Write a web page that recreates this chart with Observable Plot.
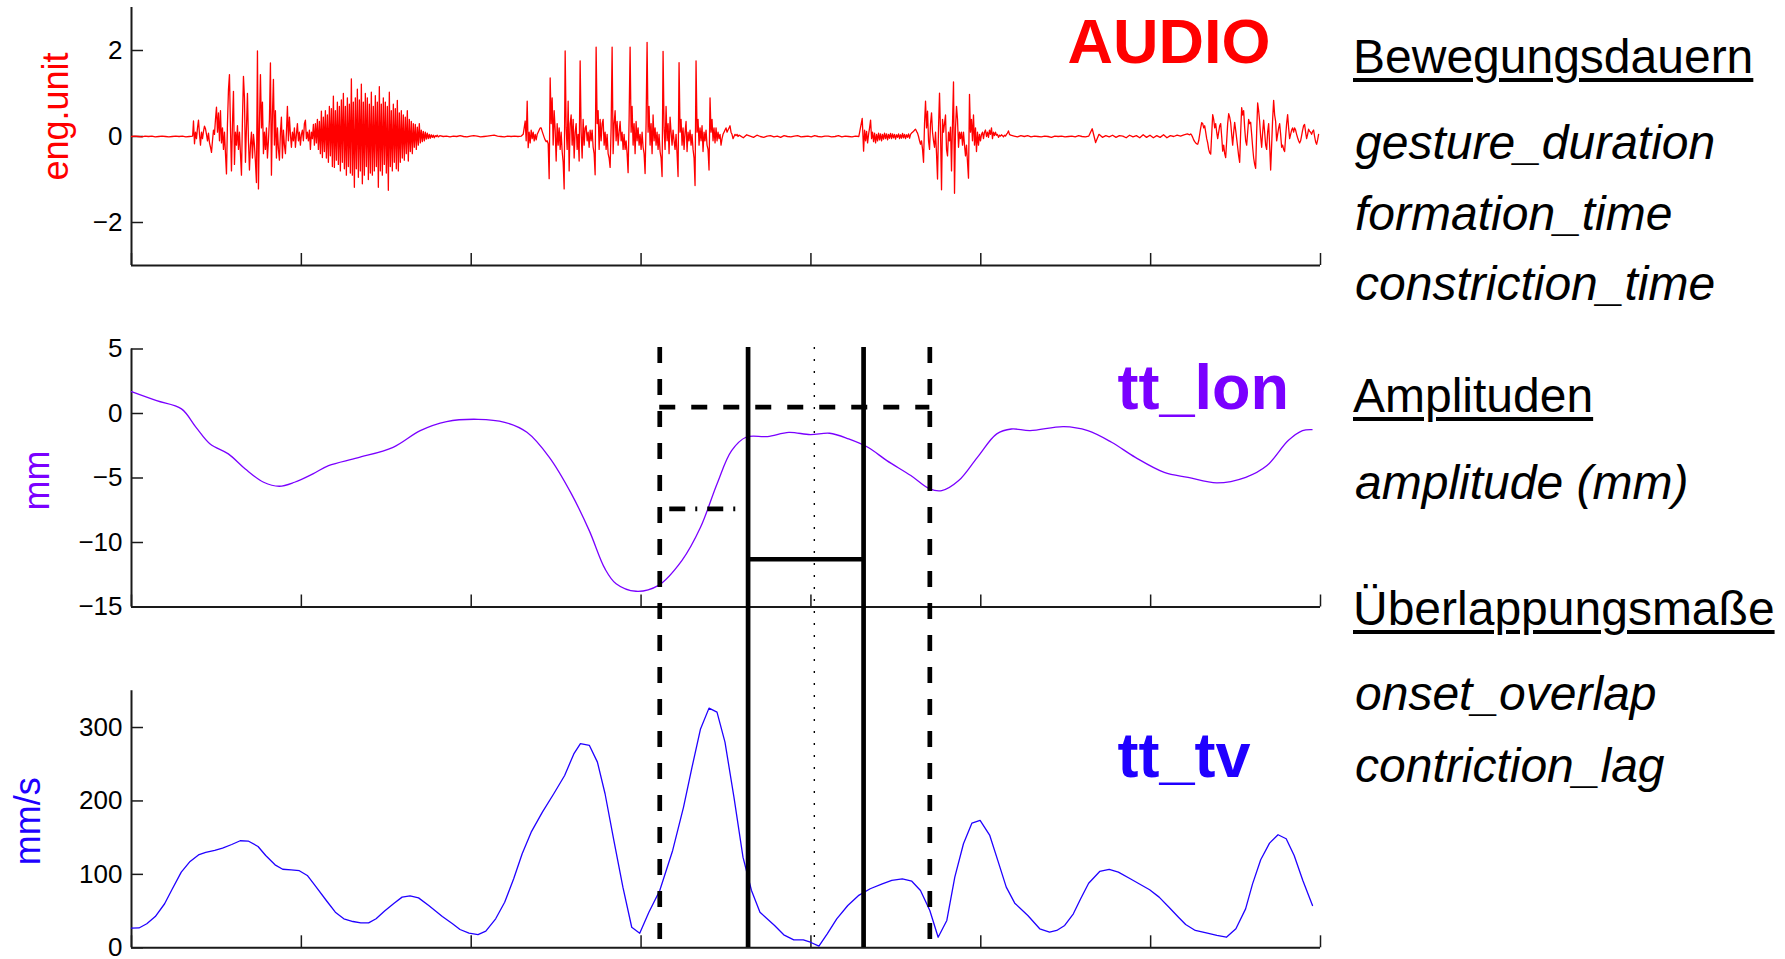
<!DOCTYPE html>
<html><head><meta charset="utf-8">
<script src="https://cdn.jsdelivr.net/npm/d3@7"></script>
<script src="https://cdn.jsdelivr.net/npm/@observablehq/plot@0.6"></script>
<style>
body{margin:0;background:#fff;font-family:"Liberation Sans",Arial,Helvetica,sans-serif;}
#wrap{position:relative;width:1785px;height:959px;overflow:hidden;background:#fff;}
.rt{position:absolute;left:1353px;font-size:48px;line-height:48px;white-space:nowrap;color:#000;}
.rt.h{text-decoration:underline;text-decoration-thickness:3.5px;text-underline-offset:5px;}
.rt.i{font-style:italic;left:1355px;}
</style></head>
<body><div id="wrap"></div>
<script>
// ---------- shared time axis (ms, unlabeled ticks) ----------
const xDomain = [0, 700];
const xTicks = [0, 100, 200, 300, 400, 500, 600, 700];

// ---------- AUDIO (eng.unit), sampled in segments ----------
const audioSegStart = [0, 36.5, 181.5, 230.6, 358.2, 431, 517.6, 623];   // ms
const audioSegRate  = [0.5, 1.7, 0.5, 1.7, 0.5, 1.7, 0.5, 1.7];          // samples per ms
const audioQuiet1 = [0,0.01,0,-0.01,0.01,0,0.01,-0.01,0,0.01,0,-0.01,0,0.01,0,0.01,-0.01,0,0.01];
const audioSyllable1 = [
0.36,-0.17,0.1,-0.05,0.2,0.38,0.05,-0.2,0.1,-0.05,
0.12,0.24,0.18,0.05,-0.1,0.08,-0.15,-0.25,-0.37,-0.1,
0.15,0.05,0.4,0.68,0.1,0.55,-0.1,0.6,-0.15,0.2,
-0.3,0.1,-0.4,-0.87,0.3,1.09,1.44,0.2,-0.8,0.3,
1.05,-0.65,0.1,-0.2,0.25,-0.3,0.1,-0.4,-0.9,0.4,
1.4,0.9,-0.6,0.2,1.0,-0.1,-0.78,-0.2,0.1,-0.5,
0.05,-0.2,-0.6,-1.07,1.99,-1.22,0.3,1.44,0.2,0.8,
-0.4,0.1,-0.3,0.2,-0.5,-0.1,0.4,1.71,-0.9,0.5,
1.33,-0.2,0.6,-0.5,0.2,-0.3,-0.55,0.1,0.45,-0.5,
0.15,-0.2,-0.4,0.1,0.7,-0.1,0.45,0.05,-0.25,0.1,
-0.1,0.2,-0.25,0.05,0.3,-0.1,0.1,-0.2,0.05,0.15,
-0.1,0.3,0.38,-0.05,0.1,-0.1,0.15,-0.3,0.1,-0.05,
0.28,-0.2,0.3,-0.15,0.4,-0.3,0.35,-0.4,0.59,-0.49,
0.45,-0.35,0.6,-0.5,0.5,-0.6,0.7,-0.45,0.65,-0.7,
0.94,-0.72,0.6,-0.55,0.8,-0.65,0.7,-0.8,0.85,-0.6,
1.0,-0.75,0.7,-0.9,0.9,-0.7,0.75,-0.85,1.34,-0.9,
0.8,-1.18,0.9,-0.75,1.1,-0.95,0.85,-0.8,1.22,-1.1,
0.8,-0.9,1.0,-0.7,0.9,-1.0,0.75,-0.85,1.03,-0.9,
0.7,-0.8,0.95,-0.7,0.8,-1.18,1.16,-0.8,0.75,-0.9,
0.9,-0.65,0.8,-0.85,0.7,-1.25,1.03,-0.7,0.6,-0.8,
0.75,-0.6,0.65,-0.75,0.84,-0.8,0.55,-0.6,0.6,-0.5,
0.5,-0.55,0.45,-0.4,0.6,-0.57,0.4,-0.35,0.35,-0.4,
0.3,-0.25,0.28,-0.3,0.22,-0.2,0.3,-0.15,0.15,-0.12,
0.12,-0.1,0.1,-0.06,0.08,-0.05,0.05,-0.04,0.04,-0.02,
0.03,-0.03,0.02,0,0.03,-0.01];
const audioQuiet2 = [0.02,0,0.01,-0.01,0.01,0,0.02,0,-0.01,0.01,0.02,0.01,-0.01,0,0.01,0.02,0.03,0.01,0,-0.01,0.01,0,0.01,0,0.01];
const audioSyllable2 = [
0.05,0.2,0.36,-0.1,0.82,-0.26,0.1,-0.15,0.15,-0.05,
0.1,-0.1,0.05,-0.08,0.05,0.1,0.15,0.2,0.2,0.12,
0.05,-0.02,-0.08,-0.12,-0.1,-0.17,-0.98,1.36,0.3,0.9,
-0.2,0.6,0.15,-0.57,0.3,-0.2,0.2,-0.3,0.1,-0.35,
-0.6,-1.22,1.99,0.2,-0.3,0.82,-0.8,0.3,0.5,-0.2,
0.4,-0.5,0.1,0.3,-0.3,0.05,-0.57,1.76,0.1,-0.5,
0.4,-0.2,0.2,0.25,-0.1,0.1,-0.25,0.15,-0.1,0.15,
-0.25,-0.4,-0.89,2.08,0.3,0.6,-0.3,0.4,-0.1,0.3,
0.4,-0.2,0.1,-0.3,0.05,-0.4,-0.5,-0.72,0.2,2.08,
-0.4,0.3,0.6,-0.1,0.35,-0.2,0.1,0.35,-0.1,0.1,
-0.3,0.05,-0.3,-0.1,-0.4,-0.84,0.4,2.08,0.1,0.7,
-0.2,0.3,-0.4,0.35,-0.1,0.2,-0.2,0.05,-0.3,0.1,
-0.25,-0.4,-0.86,0.3,2.19,0.1,0.7,-0.2,0.3,-0.4,
0.5,-0.1,0.2,-0.2,0.1,-0.3,0.05,-0.35,-0.5,-0.93,
1.98,0.2,-0.3,0.7,-0.1,0.3,-0.4,0.45,0.1,-0.2,
0.15,-0.1,-0.3,0.05,-0.4,-0.93,1.72,0.1,0.4,-0.2,
0.2,-0.3,0.1,0.35,-0.35,0.1,-0.1,0.15,-0.2,0.05,
-0.3,-0.5,-1.14,1.76,0.1,0.4,-0.2,0.2,-0.1,0.25,
-0.35,0.1,-0.1,0.15,-0.2,-0.3,-0.78,0.9,0.1,0.4,
-0.1,0.2,-0.15,0.2,-0.1,0.1,-0.05,0.05,-0.2,-0.05,
0.05,0.1,0.15,0.2,0.1,0.15,0.2,0.25,0.1,0.05,
-0.05,0,0.05,0.02,0.05,0,0.03];
const audioQuiet3 = [0.02,-0.03,0.04,0.01,-0.02,0.03,0,-0.02,0.01,0.02,-0.01,0.01,-0.02,0.02,0,-0.01,0.01,0.02,-0.01,0,0.01,-0.01,0.02,0,-0.01,0.01,0.01,-0.01,0,0.02,-0.01,0.01,0,-0.01,0.01,0,0.42];
const audioSyllable3 = [
-0.34,0.15,-0.1,0.12,-0.15,0.05,0.2,0.38,-0.05,0.1,
-0.12,0.08,-0.15,0.05,-0.1,0.08,-0.08,0.06,-0.1,0.05,
-0.06,0.08,-0.05,0.06,-0.08,0.05,-0.04,0.07,-0.05,0.06,
-0.03,0.05,-0.06,0.04,-0.02,0.06,-0.05,0.04,-0.04,0.07,
-0.03,0.05,-0.05,0.04,-0.02,0.06,-0.04,0.05,0.08,0.1,
0.12,0.15,0.17,0.12,0.08,0,-0.1,-0.18,-0.1,-0.3,
-0.6,0.3,0.82,0.2,0.59,-0.1,-0.3,0.3,0.55,0.1,
-0.1,-0.25,0.1,-0.4,-0.99,0.2,1.01,0.1,-1.24,0.4,
0.1,0.3,0.5,-0.3,-0.45,0.1,-0.1,0.22,-0.8,0.3,
1.27,-1.32,0.2,0.7,0.4,-0.25,0.1,-0.05,0.1,-0.2,
0.1,-0.2,-0.45,-0.2,-0.6,-0.97,0.98,0.1,0.4,-0.1,
0.5,-0.2,0.2,-0.35,0.1,-0.2,0.05,-0.1,0.05,0.1,
-0.05,0.1,0.15,0,0.1,-0.02,0.15,0.05,0.2,-0.05,
0.1,0.02,0.1,0.03,0.05,-0.02,0.03,0.01,0.04,0.02,
-0.01,0.03,0.01,0.05,0.08,0.13,0.05];
const audioQuiet4 = [0.03,0.01,-0.01,0.02,0,0.02,-0.01,0.01,0,-0.01,0.01,0,-0.02,0.01,0,0.01,-0.01,0,0.01,-0.01,0.02,0,-0.01,0.01,0.18,-0.14,0.05,-0.02,0.02,-0.01,0.03,-0.02,0.02,0.01,-0.03,0.03,-0.01,0.02,-0.03,0.04,-0.02,0.03,-0.03,0.02,-0.02,0.04,-0.03,0.02,0,0.03,0.01,0.04,0.06];
const audioSyllable4 = [
0.04,0.06,0.03,-0.02,-0.08,-0.12,-0.15,-0.17,-0.18,-0.1,
0.05,0.2,0.32,0.3,0.2,0.25,0.1,-0.05,-0.15,-0.3,
-0.38,-0.41,0.05,0.51,0.4,0.2,0.3,0.1,-0.05,0.1,
0.25,0.3,0,-0.34,-0.2,-0.4,-0.49,-0.1,0.3,0.53,
0.45,0.32,0.05,-0.2,0.1,0.33,0.15,-0.05,-0.25,-0.45,
-0.6,0.1,0.67,0.5,0.6,0.2,-0.1,-0.2,0.1,0.4,
0.3,0.33,0.05,-0.25,-0.5,-0.65,-0.74,0.1,0.78,0.6,
0.35,0,-0.25,0.1,0.38,0.1,-0.2,-0.3,0.1,0.3,
-0.2,-0.78,-0.2,0.4,0.84,0.5,0.35,-0.1,0.05,0.2,
0.3,0.05,-0.25,-0.2,-0.3,-0.35,0,0.3,0.51,0.2,
-0.05,0.05,0.15,0.2,0.1,0.2,0.15,0.05,-0.03,-0.1,
-0.15,-0.1,0.02,0.15,0.25,0.28,0.1,-0.05,0.05,0.17,
0.12,0.1,0.05,0.12,0.15,0,-0.12,-0.18,-0.08,0.05];
const audioYTicks = [-2, 0, 2];
const audioYDomain = [-3, 3];

// ---------- tt_lon (mm) ----------
const lonT = [0,14.8,29.4,38,46.3,57,67,77.8,87,96,106.8,116,133,154,170,185.5,204,219.7,232.8,246,259,269.5,278.8,285.3,297,310,324,335,344.7,353.3,361.8,374.4,387,399.7,411,422.2,433.5,444.7,458.8,470,477,487,498,509.4,518,529,548.8,563,577,591,608,622,639,656,668.5,681,689.4,695];
const lonV = [1.7,1.0,0.36,-1.07,-2.36,-3.13,-4.3,-5.33,-5.64,-5.33,-4.68,-4.04,-3.44,-2.62,-1.33,-0.63,-0.45,-0.68,-1.46,-3.4,-6.23,-9.08,-12.05,-13.2,-13.78,-13.34,-11.4,-8.82,-5.46,-2.88,-1.84,-1.79,-1.46,-1.64,-1.53,-1.97,-2.62,-3.65,-4.81,-5.85,-5.98,-5.2,-3.4,-1.58,-1.2,-1.33,-1.02,-1.33,-2.23,-3.4,-4.56,-4.95,-5.38,-4.95,-4.04,-2.1,-1.33,-1.25];
const lonYTicks = [-15, -10, -5, 0, 5];
const lonYDomain = [-15, 5];

// ---------- tt_tv (mm/s) ----------
const tvT = [0,4.4,9,14,19.5,24,29.3,34.5,39.8,43.7,49,53.6,59,64,68.7,74.5,79,84.5,89,94,98.8,103.5,108,114.7,120,125,130.4,135,139.6,144,149,154.6,159.3,164,169,175,183,189,193.4,198.7,204,208.6,214.4,219.7,225,230,235.3,241.9,248.6,255,260.4,264.3,269.6,274.3,278.8,284,289.3,294.5,299.2,304.6,311,318.6,325,330,335,340,344.7,349.4,354.7,360,365,370,378.6,384,389.9,395.5,399.7,404.7,409.6,415.2,421.7,427.9,434.9,442,447.6,453.8,459.4,464.5,470,474.9,480,484.7,489.8,494.8,499.6,505.3,510,515,520,527.7,534.7,540.5,544.7,549.4,554.5,558.8,563.5,570,575.6,581,588,599.4,605,610.8,616.4,620.6,626.3,633.4,639,644.6,650.2,655.9,660,664.8,670,675,679.8,684.5,689.6,695.3];
const tvV = [26.7,27,32.7,42.6,60,80,103,117.6,127,130,132.6,135.7,140.7,145.8,145.4,138,125.7,113,107,106,105,98.5,85,64.4,48.5,39.5,35.8,34,34,39.5,50,60.8,69,70.8,68,57.6,42.6,32.7,24.9,19.9,18,22.6,39.5,62,94,128,157.5,184.7,209.8,234.7,264,278,275.6,252.9,209.8,146,82.6,28,19.9,48.5,78,132.6,191.6,246,298,326.4,321,280,205,123.4,78,48.5,30.4,17.7,10.9,10.9,7.6,2.2,19,39.5,57.6,71,80.4,87,91.7,94,90.7,78,50.8,14.4,37.2,96.2,141.7,169.8,173.4,153,119,82.6,60.8,44,25.9,21.3,23.6,30.4,46.3,66.8,88,104,106.7,103,94,79,69,55.3,41.7,31.7,23.6,19.9,16.8,14.4,25.9,53,87,120,142.5,154,148.5,125.7,91.7,57.6];
const tvYTicks = [0, 100, 200, 300];
const tvYDomain = [0, 350];

// ---------- gesture landmarks (ms) and amplitude levels (mm) ----------
const gestureOnOff = [311, 470];        // dashed verticals
const constrictionOnOff = [363, 431];   // solid verticals
const maxConstriction = [402];          // dotted vertical
const gestureLevel = [0.5];             // dashed horizontal over gesture
const formationLevel = [-7.4];          // dash-dot horizontal
const formationEnd = 357;
const constrictionLevel = [-11.3];      // solid horizontal

// ---------- labels ----------
const panelTitles = ["AUDIO", "tt_lon", "tt_tv"];
const yLabels = ["eng.unit", "mm", "mm/s"];
const rightHeads = ["Bewegungsdauern", "Amplituden", "Überlappungsmaße"];
const rightItems = [["gesture_duration", "formation_time", "constriction_time"], ["amplitude (mm)"], ["onset_overlap", "contriction_lag"]];

// ---------- drawing ----------
const FONT = "'Liberation Sans', Arial, Helvetica, sans-serif";
const RED = "#ff0000", VIOLET = "#7a00ff", BLUE = "#2000ff", INK = "#1a1a1a";
const W = 1340, ML = 131, MR = 20;
const wrap = document.getElementById("wrap");

const audio = [audioQuiet1, audioSyllable1, audioQuiet2, audioSyllable2, audioQuiet3, audioSyllable3, audioQuiet4, audioSyllable4]
  .flatMap((vals, k) => vals.map((v, i) => ({t: audioSegStart[k] + i / audioSegRate[k], v})));
const lon = lonT.map((t, i) => ({t, v: lonV[i]}));
const tv = tvT.map((t, i) => ({t, v: tvV[i]}));

function axes(yTicks, yDomain) {
  return [
    Plot.axisY({ticks: yTicks, tickSize: 0, tickPadding: 9, fontSize: 26, label: null, fill: "#000", tickFormat: "d"}),
    Plot.axisY({ticks: yTicks, tickSize: 12, dx: 12, tickFormat: () => "", label: null, stroke: INK, strokeWidth: 1.5}),
    Plot.axisX({ticks: xTicks, tickSize: 12, dy: -12, tickFormat: () => "", label: null, stroke: INK, strokeWidth: 1.5}),
    Plot.ruleX([xDomain[0]], {stroke: INK, strokeWidth: 2}),
    Plot.ruleY([yDomain[0]], {stroke: INK, strokeWidth: 2})
  ];
}

function place(svg, top) {
  svg.style.position = "absolute";
  svg.style.left = "0px";
  svg.style.top = top + "px";
  svg.style.background = "transparent";
  svg.style.overflow = "visible";
  svg.style.maxWidth = "none";
  wrap.append(svg);
}

function panel({top, height, marginTop, marginBottom, yDomain, yTicks, marks}) {
  const svg = Plot.plot({
    width: W, height, marginLeft: ML, marginRight: MR, marginTop, marginBottom,
    style: {fontFamily: FONT, background: "transparent", color: "#000"},
    x: {domain: xDomain}, y: {domain: yDomain},
    marks: [...axes(yTicks, yDomain), ...marks]
  });
  place(svg, top);
}

function title(text, color, dx, dy) {
  return Plot.text([text], {frameAnchor: "top-left", dx, dy, textAnchor: "start", lineAnchor: "bottom", fontSize: 63, fontWeight: "bold", fill: color});
}
function ylab(text, color, dx, dy) {
  return Plot.text([text], {frameAnchor: "left", rotate: -90, dx, dy, textAnchor: "middle", lineAnchor: "middle", fontSize: 36, fill: color});
}

// Panel 1: AUDIO
panel({top: 0, height: 285, marginTop: 7, marginBottom: 20, yDomain: audioYDomain, yTicks: audioYTicks, marks: [
  Plot.line(audio, {x: "t", y: "v", stroke: RED, strokeWidth: 1.3, strokeLinejoin: "round"}),
  title(panelTitles[0], RED, 936, 55),
  ylab(yLabels[0], RED, -75, -20)
]});

// Panel 2: tt_lon
panel({top: 330, height: 290, marginTop: 18.5, marginBottom: 13.5, yDomain: lonYDomain, yTicks: lonYTicks, marks: [
  Plot.line(lon, {x: "t", y: "v", stroke: VIOLET, strokeWidth: 1.3, curve: "catmull-rom"}),
  Plot.ruleY(gestureLevel, {x1: gestureOnOff[0], x2: gestureOnOff[1], stroke: "#000", strokeWidth: 4.7, strokeDasharray: "16,16"}),
  Plot.ruleY(formationLevel, {x1: gestureOnOff[0], x2: formationEnd, stroke: "#000", strokeWidth: 4.7, strokeDasharray: "0,10,16,10,2,0"}),
  Plot.ruleY(constrictionLevel, {x1: constrictionOnOff[0], x2: constrictionOnOff[1], stroke: "#000", strokeWidth: 4.7}),
  title(panelTitles[1], VIOLET, 986, 60),
  ylab(yLabels[1], VIOLET, -94, 2.5)
]});

// Panel 3: tt_tv
panel({top: 670, height: 289, marginTop: 20.3, marginBottom: 11.7, yDomain: tvYDomain, yTicks: tvYTicks, marks: [
  Plot.line(tv, {x: "t", y: "v", stroke: BLUE, strokeWidth: 1.3}),
  title(panelTitles[2], BLUE, 986, 86.4),
  ylab(yLabels[2], BLUE, -103, 2)
]});

// Overlay: landmark lines across panels 2 and 3
const overlay = Plot.plot({
  width: W, height: 619, marginLeft: ML, marginRight: MR, marginTop: 7, marginBottom: 12,
  style: {background: "transparent"},
  x: {domain: xDomain, axis: null},
  marks: [
    Plot.ruleX(gestureOnOff, {stroke: "#000", strokeWidth: 4.7, strokeDasharray: "16,16"}),
    Plot.ruleX(constrictionOnOff, {stroke: "#000", strokeWidth: 4.7}),
    Plot.ruleX(maxConstriction, {stroke: "#000", strokeWidth: 1.4, strokeDasharray: "2,10"})
  ]
});
place(overlay, 340);

// Right-hand text
const rightTops = [[33, [118.5, 189.5, 260]], [372, [458.7]], [585, [670, 742]]];
rightHeads.forEach((h, k) => {
  const d = document.createElement("div");
  d.className = "rt h"; d.style.top = rightTops[k][0] + "px"; d.textContent = h;
  wrap.append(d);
  rightItems[k].forEach((s, j) => {
    const e = document.createElement("div");
    e.className = "rt i"; e.style.top = rightTops[k][1][j] + "px"; e.textContent = s;
    wrap.append(e);
  });
});
</script></body></html>
